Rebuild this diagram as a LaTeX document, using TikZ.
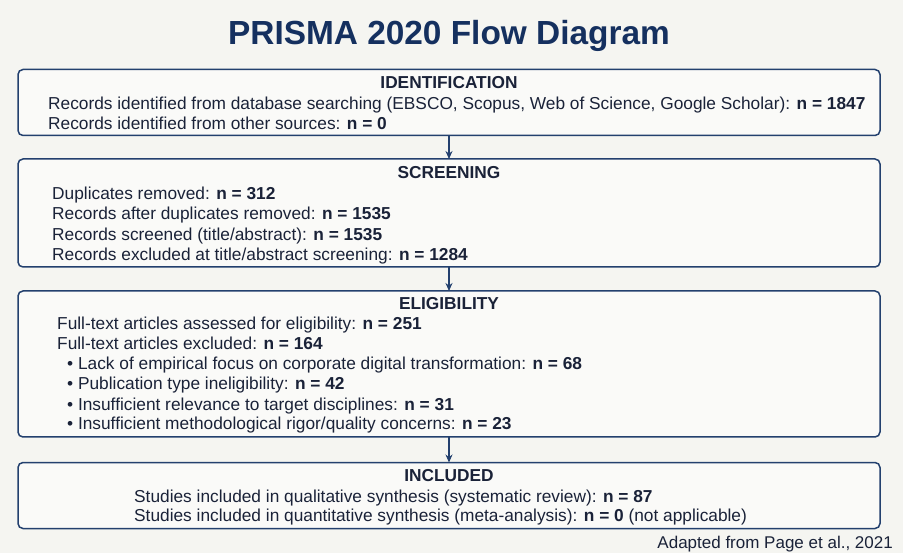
\documentclass[tikz,border=0pt]{standalone}
\usepackage{fontspec}
\setmainfont{Liberation Sans}
\usetikzlibrary{arrows.meta}
\definecolor{bgc}{HTML}{F5F5F1}
\definecolor{boxfill}{HTML}{FAFAF8}
\definecolor{navy}{HTML}{23406E}
\definecolor{titlec}{HTML}{15305F}
\definecolor{txt}{HTML}{1A2238}
\tikzset{
  stagebox/.style={draw=navy, line width=1.5pt, fill=boxfill, rounded corners=5pt, minimum width=862pt, inner sep=0pt, outer sep=0pt},
  line/.style={text=txt, font=\fontsize{17.3}{20}\selectfont, inner sep=0pt, anchor=base west},
  head/.style={text=txt, font=\fontsize{17.3}{20}\selectfont\bfseries, inner sep=0pt, anchor=base},
  flow/.style={draw=navy, line width=1.2pt, -{Stealth[length=8pt,width=7pt]}}
}
\begin{document}
\begin{tikzpicture}[x=1pt,y=-1pt]
\fill[bgc] (0,0) rectangle (903,553);
\useasboundingbox (0,0) rectangle (903,553);
\node[text=titlec, font=\fontsize{33.4}{36}\selectfont\bfseries, inner sep=0pt, anchor=base] (title) at (449,45) {PRISMA 2020 Flow Diagram};

\node[stagebox, minimum height=66pt] (b1) at (449,102.5) {};
\node[stagebox, minimum height=108pt] (b2) at (449,213) {};
\node[stagebox, minimum height=146pt] (b3) at (449,364) {};
\node[stagebox, minimum height=66pt] (b4) at (449,495.5) {};

\node[head] (h1) at (449,89) {IDENTIFICATION};
\node[line] (l11) at (48,109.5) {Records identified from database searching (EBSCO, Scopus, Web of Science, Google Scholar): \textbf{n = 1847}};
\node[line] (l12) at (48,129.5) {Records identified from other sources: \textbf{n = 0}};

\node[head] (h2) at (449,179) {SCREENING};
\node[line] (l21) at (52,200) {Duplicates removed: \textbf{n = 312}};
\node[line] (l22) at (52,220) {Records after duplicates removed: \textbf{n = 1535}};
\node[line] (l23) at (52,240.5) {Records screened (title/abstract): \textbf{n = 1535}};
\node[line] (l24) at (52,260.5) {Records excluded at title/abstract screening: \textbf{n = 1284}};

\node[head] (h3) at (449,310) {ELIGIBILITY};
\node[line] (l31) at (57,330) {Full-text articles assessed for eligibility: \textbf{n = 251}};
\node[line] (l32) at (57,350) {Full-text articles excluded: \textbf{n = 164}};
\node[line] (l33) at (67,370) {• Lack of empirical focus on corporate digital transformation: \textbf{n = 68}};
\node[line] (l34) at (67,390) {• Publication type ineligibility: \textbf{n = 42}};
\node[line] (l35) at (67,410) {• Insufficient relevance to target disciplines: \textbf{n = 31}};
\node[line] (l36) at (67,430) {• Insufficient methodological rigor/quality concerns: \textbf{n = 23}};

\node[head] (h4) at (449,482) {INCLUDED};
\node[line] (l41) at (134,502) {Studies included in qualitative synthesis (systematic review): \textbf{n = 87}};
\node[line] (l42) at (134,521.5) {Studies included in quantitative synthesis (meta-analysis): \textbf{n = 0} (not applicable)};

\node[text=txt, font=\fontsize{17}{20}\selectfont, inner sep=0pt, anchor=base east] (src) at (893,548.5) {Adapted from Page et al., 2021};

\draw[flow] (b1.south) -- (b2.north);
\draw[flow] (b2.south) -- (b3.north);
\draw[flow] (b3.south) -- (b4.north);
\end{tikzpicture}
\end{document}
